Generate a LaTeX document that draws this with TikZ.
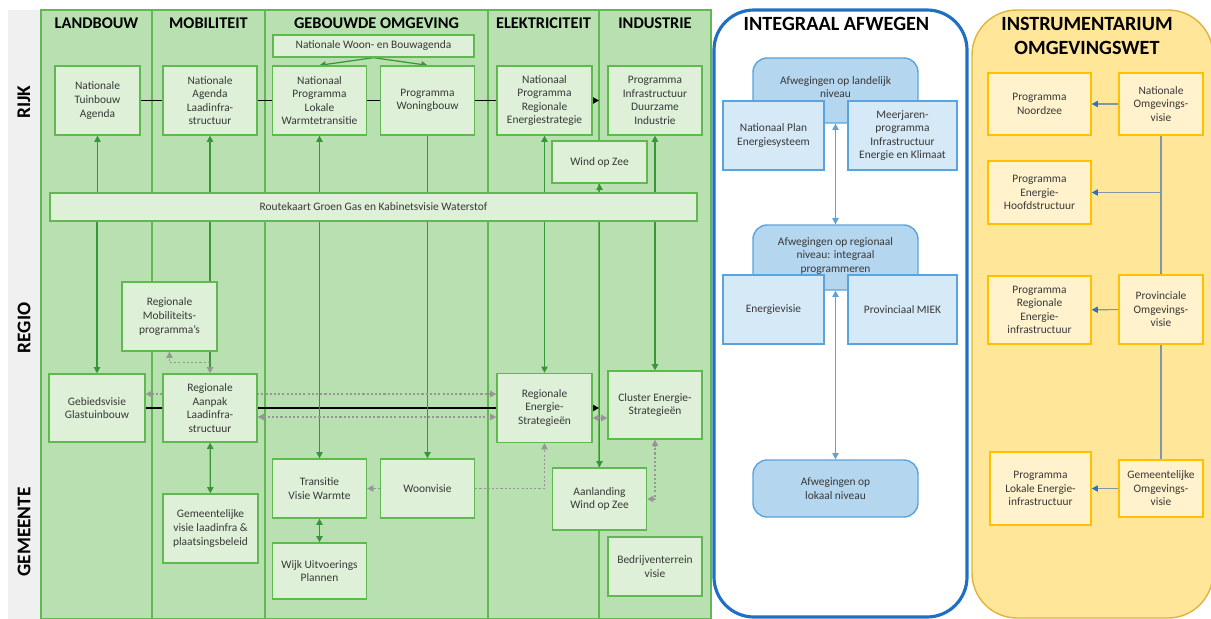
\documentclass[tikz,border=0pt]{standalone}
\usepackage{fontspec}
\setmainfont{Carlito}
\usetikzlibrary{arrows.meta,positioning}
\definecolor{colgreen} {RGB}{185,224,176}
\definecolor{boxgreen} {RGB}{222,240,216}
\definecolor{linegreen}{RGB}{96,184,80}
\definecolor{arrgreen} {RGB}{56,150,56}
\definecolor{arrgray}  {RGB}{150,150,150}
\definecolor{sidegray} {RGB}{240,240,240}
\definecolor{txtgray}  {RGB}{56,56,56}
\definecolor{panblue}  {RGB}{31,111,197}
\definecolor{bluedark} {RGB}{180,214,239}
\definecolor{bluelight}{RGB}{214,233,247}
\definecolor{blueline} {RGB}{91,163,220}
\definecolor{panyellow}{RGB}{255,230,153}
\definecolor{yelline}  {RGB}{224,180,60}
\definecolor{boxyellow}{RGB}{255,242,204}
\definecolor{boxyelline}{RGB}{255,192,0}
\definecolor{stemgray} {RGB}{130,150,170}
\definecolor{tipblue}  {RGB}{46,117,182}
\pgfdeclarelayer{back}
\pgfdeclarelayer{lines}
\pgfsetlayers{back,lines,main}
\begin{document}
\begin{tikzpicture}[x=0.02cm, y=-0.02cm,
  >={Triangle[length=3.5pt,width=3.6pt]},
  txt/.style={font=\fontsize{6.5}{7.7}\selectfont, text=txtgray, align=center},
  gbx/.style={txt, rectangle, draw=linegreen, line width=0.8pt, fill=boxgreen,
              minimum width=1.88cm, minimum height=1.38cm, inner sep=1pt},
  hdr/.style={font=\fontsize{9.3}{10}\selectfont\bfseries, text=black},
  side/.style={font=\fontsize{11}{12}\selectfont\bfseries, rotate=90},
  ptitle/.style={font=\fontsize{11.5}{14}\selectfont\bfseries, align=center},
  bbx/.style={txt, rectangle, draw=blueline, line width=0.8pt, fill=bluelight,
              minimum width=2.02cm, minimum height=1.38cm},
  bround/.style={txt, rectangle, rounded corners=8pt, draw=blueline, line width=0.8pt,
              fill=bluedark, minimum width=3.3cm, minimum height=1.3cm},
  ybx/.style={txt, rectangle, draw=boxyelline, line width=0.8pt, fill=boxyellow,
              minimum width=2.06cm, minimum height=1.24cm},
  blk/.style={draw=black, line width=1.1pt},
  garr/.style={->, draw=arrgreen, line width=0.7pt},
  darr/.style={draw=arrgray, line width=0.6pt, dash pattern=on 1.2pt off 1.2pt},
  barr/.style={<->, draw=blueline, line width=0.6pt},
  yarr/.style={-{Triangle[length=3.5pt,width=3.6pt,color=tipblue]}, draw=stemgray, line width=0.6pt}
]
  \useasboundingbox (0,0) rectangle (1211,619);

  % achtergrond: kolommen en panelen
  \begin{pgfonlayer}{back}
    \fill[sidegray] (8,10) rectangle (41,619);
    \filldraw[fill=colgreen, draw=linegreen, line width=0.8pt] (41,10) rectangle (711,619);
    \foreach \x in {152,265,488,599}
      \draw[linegreen, line width=0.8pt] (\x,10) -- (\x,619);
    \draw[panblue, line width=1.8pt, fill=white, rounded corners=0.8cm] (714,10) rectangle (967,617);
    \filldraw[fill=panyellow, draw=yelline, line width=0.8pt, rounded corners=0.9cm] (972,10) rectangle (1213,618);
  \end{pgfonlayer}

  \node[side] (rijk)  at (24,102) {RIJK};
  \node[side] (regio) at (24,328) {REGIO};
  \node[side] (gem)   at (24,532) {GEMEENTE};

  \node[hdr] (hland) at (96.5,23)  {LANDBOUW};
  \node[hdr] (hmob)  at (208.5,23) {MOBILITEIT};
  \node[hdr] (hgeb)  at (376.5,23) {GEBOUWDE OMGEVING};
  \node[hdr] (helek) at (543.5,23) {ELEKTRICITEIT};
  \node[hdr] (hind)  at (655,23)   {INDUSTRIE};

  % rijk
  \node[gbx, minimum width=1.7cm] (tuin) at (97.5,100.5) {Nationale\\Tuinbouw\\Agenda};
  \node[gbx] (nalaad) at (210,100.5) {Nationale\\Agenda\\Laadinfra-\\structuur};
  \node[gbx, minimum width=4.02cm, minimum height=0.44cm] (woonag) at (373.5,46)
    {Nationale Woon- en Bouwagenda};
  \node[gbx] (nplw) at (319.5,100.5) {Nationaal\\Programma\\Lokale\\Warmtetransitie};
  \node[gbx] (woningb) at (427.5,100.5) {Programma\\Woningbouw};
  \node[gbx, minimum width=1.9cm] (npres) at (544.5,100.5)
    {Nationaal\\Programma\\Regionale\\Energiestrategie};
  \node[gbx] (pidi) at (655,100.5) {Programma\\Infrastructuur\\Duurzame\\Industrie};
  \node[gbx, minimum width=1.9cm, minimum height=0.84cm] (wozee) at (599.5,162) {Wind op Zee};
  \node[gbx, minimum width=12.94cm, minimum height=0.56cm] (route) at (373.5,207)
    {Routekaart Groen Gas en Kabinetsvisie Waterstof};

  % regio
  \node[gbx, minimum width=1.9cm] (regmob) at (169.5,316.5) {Regionale\\Mobiliteits-\\programma’s};
  \node[gbx, minimum width=1.92cm, minimum height=1.36cm] (gebied) at (97,408) {Gebiedsvisie\\Glastuinbouw};
  \node[gbx, minimum height=1.36cm] (regaan) at (210,408) {Regionale\\Aanpak\\Laadinfra-\\structuur};
  \node[gbx, minimum width=1.9cm] (rres) at (544.5,408) {Regionale\\Energie-\\Strategieën};
  \node[gbx, minimum height=1.36cm] (cluster) at (655,405) {Cluster Energie-\\Strategieën};

  % gemeente
  \node[gbx, minimum width=1.9cm] (gemlaad) at (210.5,528.5)
    {Gemeentelijke\\visie laadinfra \&\\plaatsingsbeleid};
  \node[gbx, minimum height=1.18cm] (tvw) at (319.5,488.5) {Transitie\\Visie Warmte};
  \node[gbx, minimum height=1.12cm] (wup) at (319.5,571) {Wijk Uitvoerings\\Plannen};
  \node[gbx, minimum height=1.18cm] (woonv) at (427.5,488.5) {Woonvisie};
  \node[gbx, minimum height=1.24cm] (aanl) at (599.5,499) {Aanlanding\\Wind op Zee};
  \node[gbx, minimum height=1.18cm] (bedr) at (655,566.5) {Bedrijventerrein\\visie};

  % integraal afwegen
  \node[ptitle] (tinteg) at (836.5,24) {INTEGRAAL AFWEGEN};
  \node[bround] (afland) at (835.5,90.5) {};
  \node[txt, below=0.26cm of afland.north] (aflandt) {Afwegingen op landelijk\\niveau};
  \node[bbx] (npe) at (773.5,135.5) {Nationaal Plan\\Energiesysteem};
  \node[bbx, minimum width=2.18cm] (mpiek) at (902.5,135.5)
    {Meerjaren-\\programma\\Infrastructuur\\Energie en Klimaat};
  \node[bround] (afreg) at (835.5,257.5) {};
  \node[txt, below=0.14cm of afreg.north] (afregt)
    {Afwegingen op regionaal\\niveau: integraal\\programmeren};
  \node[bbx] (ev) at (773.5,309.5) {Energievisie};
  \node[bbx, minimum width=2.18cm] (pmiek) at (902.5,309.5) {Provinciaal MIEK};
  \node[bround, minimum height=1.14cm] (aflok) at (835.5,488.5) {Afwegingen op\\lokaal niveau};

  % instrumentarium
  \node[ptitle] (tinstr) at (1087,36) {INSTRUMENTARIUM\\OMGEVINGSWET};
  \node[ybx] (pnz) at (1039.5,104) {Programma\\Noordzee};
  \node[ybx, minimum width=1.68cm] (nov) at (1161,104) {Nationale\\Omgevings-\\visie};
  \node[ybx, minimum height=1.26cm] (pehs) at (1039.5,192.5) {Programma\\Energie-\\Hoofdstructuur};
  \node[ybx, minimum height=1.36cm] (prei) at (1039.5,310)
    {Programma\\Regionale\\Energie-\\infrastructuur};
  \node[ybx, minimum width=1.68cm, minimum height=1.38cm] (pov) at (1161,309.5)
    {Provinciale\\Omgevings-\\visie};
  \node[ybx, minimum width=2.02cm, minimum height=1.46cm] (plei) at (1040.5,488.5)
    {Programma\\Lokale Energie-\\infrastructuur};
  \node[ybx, minimum width=1.68cm, minimum height=1.14cm] (gov) at (1161,488.5)
    {Gemeentelijke\\Omgevings-\\visie};

  \coordinate (kolrijk) at (599,100.5);
  \coordinate (kolregio) at (599,408);
  \coordinate (tak) at (nov.south |- pehs.east);

  \begin{pgfonlayer}{lines}
    % lijnen tussen sectoren
    \foreach \from/\to in {tuin/nalaad, nalaad/nplw, nplw/woningb, woningb/npres,
                           gebied/regaan, regaan/rres}
      \draw[blk] (\from) -- (\to);
    \draw[blk, ->] (npres) -- (kolrijk);
    \draw[blk, ->] (rres) -- (kolregio);

    \draw[garr] (woonag.south) -- (nplw.north);
    \draw[garr] (woonag.south) -- (woningb.north);
    \foreach \n in {tuin, nalaad, nplw, npres, wozee, pidi}
      \draw[garr] (route.north -| \n) -- (\n.south);
    \foreach \n in {gebied, tvw, rres, cluster}
      \draw[garr] (route.south -| \n) -- (\n.north);
    \draw[garr, line width=1.1pt] (route.south -| aanl) -- (aanl.north);
    \draw[draw=arrgreen, line width=0.7pt, -{Triangle[length=3.5pt,width=3.6pt,color=arrgray]}]
      (route.south -| regaan) -- (regaan.north);
    \draw[garr] (woningb) -- (woonv);
    \draw[garr, <->] (regaan) -- (gemlaad);
    \draw[garr, <->] (tvw) -- (wup);

    % gestippeld
    \draw[darr, ->] ([yshift=0.22cm]regaan.north) -| (regmob.south);
    \draw[darr, <->] ([yshift=0.28cm]gebied.east) -- ([yshift=0.28cm]rres.west);
    \draw[darr, <->] ([yshift=-0.18cm]regaan.east) -- ([yshift=-0.18cm]rres.west);
    \draw[darr, <->] ([yshift=-0.2cm]rres.east) -- ([yshift=-0.26cm]cluster.west);
    \draw[darr, ->] (woonv) -- (tvw);
    \draw[darr, ->] (woonv.east) -| (rres.south);
    \draw[darr, <->] (aanl.east) -| (cluster.south);

    % integraal afwegen
    \draw[barr] (afland.south) -- (afreg.north);
    \draw[barr] (afreg.south) -- (aflok.north);

    % instrumentarium
    \draw[yarr] (nov) -- (pnz);
    \draw[draw=stemgray, line width=0.6pt] (nov.south) -- (pov.north);
    \draw[yarr] (tak) -- (pehs.east);
    \draw[yarr] (pov) -- (prei);
    \draw[draw=stemgray, line width=0.6pt] (pov.south) -- (gov.north);
    \draw[yarr] (gov) -- (plei);
  \end{pgfonlayer}
\end{tikzpicture}
\end{document}
